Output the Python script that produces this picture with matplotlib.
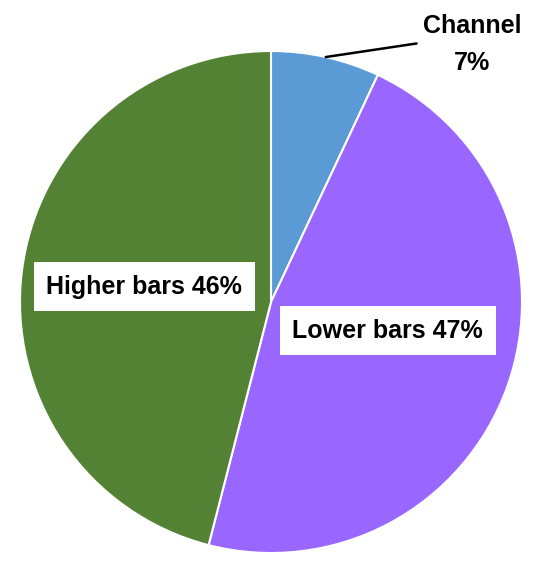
import numpy as np
import matplotlib.pyplot as plt

categories = ["Channel", "Lower bars", "Higher bars"]
values = [7, 47, 46]
colors = ["#5B9BD5", "#9966FF", "#548235"]

plt.rcParams['font.family'] = ['Liberation Sans', 'DejaVu Sans']

fig = plt.figure(figsize=(5.5, 5.65), dpi=100)
W, H = 550, 565
cx, cy, R = 271, 302, 251
ax = fig.add_axes([(cx - R) / W, (H - cy - R) / H, 2 * R / W, 2 * R / H])
wedges, _ = ax.pie(values, colors=colors, startangle=90, counterclock=False,
                   radius=1.0, wedgeprops=dict(edgecolor='white', linewidth=1.5))
ax.set_xlim(-1, 1)
ax.set_ylim(-1, 1)
ax.set_aspect('equal')
ax.axis('off')

fs = 18
# Channel: outside label with leader line
th = np.deg2rad((wedges[0].theta1 + wedges[0].theta2) / 2)
ax.annotate("", xy=(np.cos(th), np.sin(th)), xytext=(0.58, 1.03),
            arrowprops=dict(arrowstyle='-', color='black', lw=1.8,
                            shrinkA=0, shrinkB=0), annotation_clip=False)
ax.text(0.80, 1.025, f"{categories[0]}\n{values[0]}%", ha='center', va='center',
        fontsize=fs, fontweight='bold', linespacing=1.7, clip_on=False)

# inside labels with white boxes
box = dict(boxstyle='square,pad=0.5', fc='white', ec='none')
ax.text(0.465, -0.115, f"{categories[1]} {values[1]}%", ha='center', va='center',
        fontsize=fs, fontweight='bold', bbox=box)
ax.text(-0.505, 0.06, f"{categories[2]} {values[2]}%", ha='center', va='center',
        fontsize=fs, fontweight='bold', bbox=box)

fig.savefig("out.png", dpi=100)
